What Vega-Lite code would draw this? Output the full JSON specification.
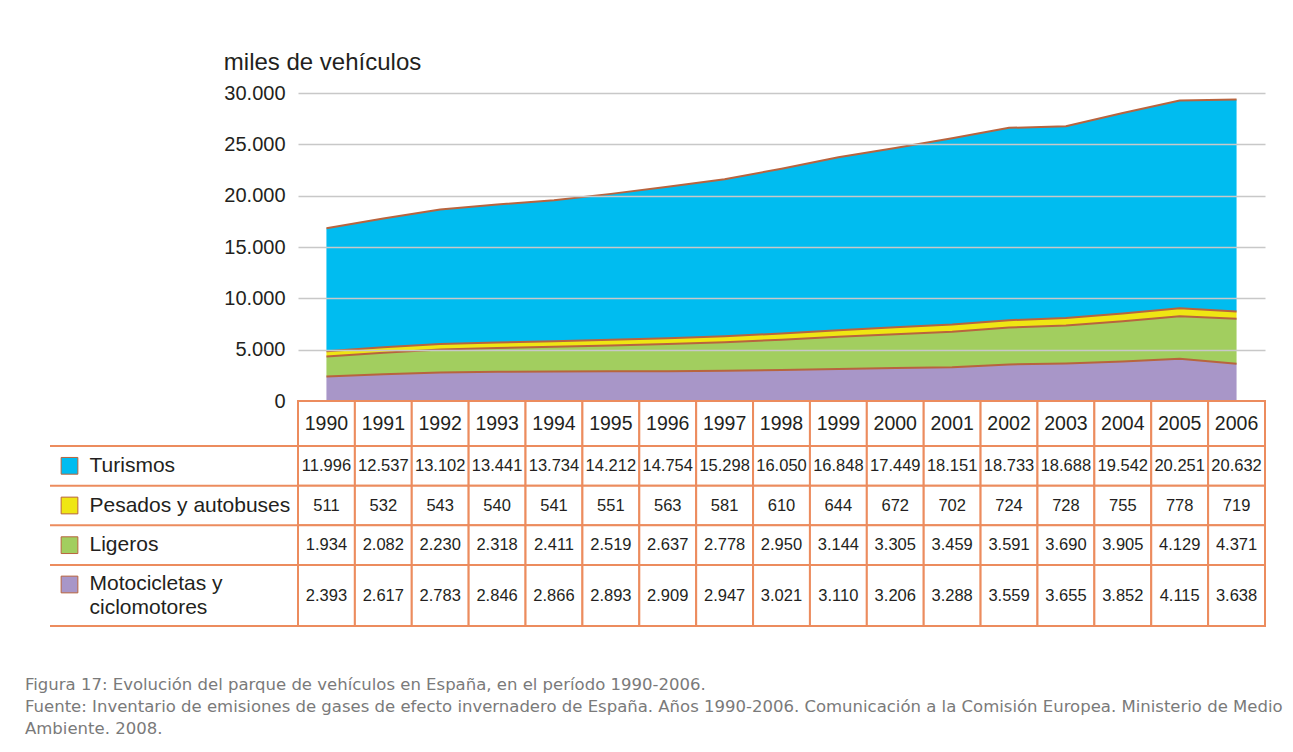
{
  "$schema": "https://vega.github.io/schema/vega-lite/v6.json",
  "padding": {"left": 25, "top": 51, "right": 0, "bottom": 0},
  "background": "white",
  "config": {
    "locale": {"number": {"decimal": ",", "thousands": ".", "grouping": [3], "currency": ["", " €"]}},
    "view": {"stroke": null},
    "font": "Liberation Sans"
  },
  "datasets": {
    "parque": [
      {"year": "1990", "Turismos": 11996, "Pesados y autobuses": 511, "Ligeros": 1934, "Motocicletas y ciclomotores": 2393},
      {"year": "1991", "Turismos": 12537, "Pesados y autobuses": 532, "Ligeros": 2082, "Motocicletas y ciclomotores": 2617},
      {"year": "1992", "Turismos": 13102, "Pesados y autobuses": 543, "Ligeros": 2230, "Motocicletas y ciclomotores": 2783},
      {"year": "1993", "Turismos": 13441, "Pesados y autobuses": 540, "Ligeros": 2318, "Motocicletas y ciclomotores": 2846},
      {"year": "1994", "Turismos": 13734, "Pesados y autobuses": 541, "Ligeros": 2411, "Motocicletas y ciclomotores": 2866},
      {"year": "1995", "Turismos": 14212, "Pesados y autobuses": 551, "Ligeros": 2519, "Motocicletas y ciclomotores": 2893},
      {"year": "1996", "Turismos": 14754, "Pesados y autobuses": 563, "Ligeros": 2637, "Motocicletas y ciclomotores": 2909},
      {"year": "1997", "Turismos": 15298, "Pesados y autobuses": 581, "Ligeros": 2778, "Motocicletas y ciclomotores": 2947},
      {"year": "1998", "Turismos": 16050, "Pesados y autobuses": 610, "Ligeros": 2950, "Motocicletas y ciclomotores": 3021},
      {"year": "1999", "Turismos": 16848, "Pesados y autobuses": 644, "Ligeros": 3144, "Motocicletas y ciclomotores": 3110},
      {"year": "2000", "Turismos": 17449, "Pesados y autobuses": 672, "Ligeros": 3305, "Motocicletas y ciclomotores": 3206},
      {"year": "2001", "Turismos": 18151, "Pesados y autobuses": 702, "Ligeros": 3459, "Motocicletas y ciclomotores": 3288},
      {"year": "2002", "Turismos": 18733, "Pesados y autobuses": 724, "Ligeros": 3591, "Motocicletas y ciclomotores": 3559},
      {"year": "2003", "Turismos": 18688, "Pesados y autobuses": 728, "Ligeros": 3690, "Motocicletas y ciclomotores": 3655},
      {"year": "2004", "Turismos": 19542, "Pesados y autobuses": 755, "Ligeros": 3905, "Motocicletas y ciclomotores": 3852},
      {"year": "2005", "Turismos": 20251, "Pesados y autobuses": 778, "Ligeros": 4129, "Motocicletas y ciclomotores": 4115},
      {"year": "2006", "Turismos": 20632, "Pesados y autobuses": 719, "Ligeros": 4371, "Motocicletas y ciclomotores": 3638}
    ]
  },
  "title": {
    "text": [
      "Figura 17: Evolución del parque de vehículos en España, en el período 1990-2006.",
      "Fuente: Inventario de emisiones de gases de efecto invernadero de España. Años 1990-2006. Comunicación a la Comisión Europea. Ministerio de Medio",
      "Ambiente. 2008."
    ],
    "orient": "bottom", "anchor": "start", "frame": "group", "dx": -25, "offset": 50,
    "fontSize": 16.5, "fontWeight": "normal", "color": "#7a7a7a", "lineHeight": 22, "font": "DejaVu Sans"
  },
  "bounds": "flush",
  "align": "each",
  "columns": 3,
  "spacing": 0,
  "resolve": {"scale": {"x": "independent", "y": "independent"}},
  "concat": [
    {"width": 1, "height": 1, "data": {"values": []}, "mark": "text"},
    {"width": 1, "height": 1, "data": {"values": []}, "mark": "text"},
    {
      "width": 967, "height": 308,
      "title": {"text": "miles de vehículos", "anchor": "start", "frame": "bounds", "fontSize": 24, "fontWeight": "normal", "color": "#231f20", "offset": 8, "font": "Liberation Sans"},
      "data": {"name": "parque"},
      "transform": [
        {"fold": ["Motocicletas y ciclomotores", "Ligeros", "Pesados y autobuses", "Turismos"], "as": ["serie", "valor"]},
        {"stack": "valor", "groupby": ["year"], "as": ["v0", "v1"]}
      ],
      "encoding": {
        "x": {"field": "year", "type": "ordinal", "scale": {"type": "point", "padding": 0.5}, "axis": null}
      },
      "layer": [
        {
          "mark": {"type": "area"},
          "encoding": {
            "y": {"field": "v1", "type": "quantitative", "scale": {"domain": [0, 30000]},
              "axis": {"values": [0, 5000, 10000, 15000, 20000, 25000, 30000], "format": ",d", "title": null, "domain": false, "ticks": false,
                "labelFontSize": 20, "labelFont": "Liberation Sans", "labelColor": "#231f20", "labelPadding": 13,
                "grid": true, "gridColor": "#c8c8c8", "gridWidth": 1.5, "zindex": 1}},
            "y2": {"field": "v0"},
            "color": {"field": "serie", "type": "nominal",
              "scale": {"domain": ["Turismos", "Pesados y autobuses", "Ligeros", "Motocicletas y ciclomotores"], "range": ["#00bcf0", "#efe613", "#a2ce5f", "#a896c8"]},
              "legend": null}
          }
        },
        {
          "mark": {"type": "line", "color": "#b8643e", "strokeWidth": 2},
          "encoding": {
            "y": {"field": "v1", "type": "quantitative"},
            "detail": {"field": "serie"}
          }
        }
      ]
    },
    {"width": 1, "height": 1, "data": {"values": []}, "mark": "text"},
    {"width": 1, "height": 1, "data": {"values": []}, "mark": "text"},
    {
      "width": 967, "height": 45,
      "data": {"name": "parque"},
      "encoding": {"x": {"field": "year", "type": "ordinal", "scale": {"type": "band", "paddingInner": 0, "paddingOuter": 0}, "axis": null}},
      "layer": [
        {"mark": {"type": "rect", "fill": "white", "stroke": "#ec8c5e", "strokeWidth": 2}},
        {"mark": {"type": "text", "fontSize": 19.5, "font": "Liberation Sans", "color": "#231f20"},
         "encoding": {"text": {"field": "year"}}}
      ]
    },
    {
      "width": 39, "height": 119,
      "data": {"name": "parque"},
      "transform": [
        {"fold": ["Turismos", "Pesados y autobuses", "Ligeros"], "as": ["serie", "valor"]},
        {"filter": "datum.year == '1990'"}
      ],
      "encoding": {"y": {"field": "serie", "type": "nominal", "scale": {"type": "band", "domain": ["Turismos", "Pesados y autobuses", "Ligeros"], "paddingInner": 0, "paddingOuter": 0}, "axis": null}},
      "layer": [
        {"mark": {"type": "rule", "color": "#ec8c5e", "strokeWidth": 2}, "encoding": {"y": {"field": "serie", "type": "nominal", "bandPosition": 0}}},
        {"mark": {"type": "point", "shape": "square", "filled": true, "size": 280, "stroke": "#b8643e", "strokeWidth": 1, "opacity": 1},
         "encoding": {"color": {"field": "serie", "type": "nominal", "scale": {"domain": ["Turismos", "Pesados y autobuses", "Ligeros", "Motocicletas y ciclomotores"], "range": ["#00bcf0", "#efe613", "#a2ce5f", "#a896c8"]}, "legend": null}}}
      ]
    },
    {
      "width": 209, "height": 119,
      "data": {"name": "parque"},
      "transform": [
        {"fold": ["Turismos", "Pesados y autobuses", "Ligeros"], "as": ["serie", "valor"]},
        {"filter": "datum.year == '1990'"}
      ],
      "layer": [
        {"mark": {"type": "rule", "color": "#ec8c5e", "strokeWidth": 2},
         "encoding": {"y": {"field": "serie", "type": "nominal", "bandPosition": 0,
           "scale": {"type": "band", "domain": ["Turismos", "Pesados y autobuses", "Ligeros"], "paddingInner": 0, "paddingOuter": 0},
           "axis": {"orient": "left", "title": null, "domain": false, "ticks": false, "grid": false, "labelAlign": "left", "labelPadding": 0,
             "labelFontSize": 21, "labelFont": "Liberation Sans", "labelColor": "#231f20", "labelLimit": 0, "labelOverlap": false, "bandPosition": 0.5}}}}
      ]
    },
    {
      "width": 967, "height": 119,
      "data": {"name": "parque"},
      "transform": [
        {"fold": ["Turismos", "Pesados y autobuses", "Ligeros"], "as": ["serie", "valor"]}
      ],
      "encoding": {
        "x": {"field": "year", "type": "ordinal", "scale": {"type": "band", "paddingInner": 0, "paddingOuter": 0}, "axis": null},
        "y": {"field": "serie", "type": "nominal", "scale": {"type": "band", "domain": ["Turismos", "Pesados y autobuses", "Ligeros"], "paddingInner": 0, "paddingOuter": 0}, "axis": null}
      },
      "layer": [
        {"mark": {"type": "rect", "fill": "white", "stroke": "#ec8c5e", "strokeWidth": 2}},
        {"mark": {"type": "text", "fontSize": 16.5, "font": "Liberation Sans", "color": "#231f20"},
         "encoding": {"text": {"field": "valor", "type": "quantitative", "format": ",d"}}}
      ]
    },
    {
      "width": 39, "height": 61,
      "data": {"name": "parque"},
      "transform": [
        {"fold": ["Motocicletas y ciclomotores"], "as": ["serie", "valor"]},
        {"filter": "datum.year == '1990'"}
      ],
      "encoding": {"y": {"field": "serie", "type": "nominal", "scale": {"type": "band", "domain": ["Motocicletas y ciclomotores"], "paddingInner": 0, "paddingOuter": 0}, "axis": null}},
      "layer": [
        {"mark": {"type": "rule", "color": "#ec8c5e", "strokeWidth": 2}, "encoding": {"y": {"field": "serie", "type": "nominal", "bandPosition": 0}}},
        {"mark": {"type": "rule", "color": "#ec8c5e", "strokeWidth": 2}, "encoding": {"y": {"field": "serie", "type": "nominal", "bandPosition": 1}}},
        {"mark": {"type": "point", "shape": "square", "filled": true, "size": 280, "stroke": "#b8643e", "strokeWidth": 1, "opacity": 1, "yOffset": -11},
         "encoding": {"color": {"field": "serie", "type": "nominal", "scale": {"domain": ["Turismos", "Pesados y autobuses", "Ligeros", "Motocicletas y ciclomotores"], "range": ["#00bcf0", "#efe613", "#a2ce5f", "#a896c8"]}, "legend": null}}}
      ]
    },
    {
      "width": 209, "height": 61,
      "data": {"name": "parque"},
      "transform": [
        {"fold": ["Motocicletas y ciclomotores"], "as": ["serie", "valor"]},
        {"filter": "datum.year == '1990'"}
      ],
      "layer": [
        {"mark": {"type": "rule", "color": "#ec8c5e", "strokeWidth": 2},
         "encoding": {"y": {"field": "serie", "type": "nominal", "bandPosition": 0,
           "scale": {"type": "band", "domain": ["Motocicletas y ciclomotores"], "paddingInner": 0, "paddingOuter": 0},
           "axis": {"orient": "left", "title": null, "domain": false, "ticks": false, "grid": false, "labelAlign": "left", "labelPadding": 0,
             "labelFontSize": 21, "labelFont": "Liberation Sans", "labelColor": "#231f20", "labelLimit": 0, "labelOverlap": false, "bandPosition": 0.5,
             "labelExpr": "['Motocicletas y', 'ciclomotores']", "labelLineHeight": 24, "labelOffset": -12}}}},
        {"mark": {"type": "rule", "color": "#ec8c5e", "strokeWidth": 2}, "encoding": {"y": {"field": "serie", "type": "nominal", "bandPosition": 1}}}
      ]
    },
    {
      "width": 967, "height": 61,
      "data": {"name": "parque"},
      "transform": [
        {"fold": ["Motocicletas y ciclomotores"], "as": ["serie", "valor"]}
      ],
      "encoding": {
        "x": {"field": "year", "type": "ordinal", "scale": {"type": "band", "paddingInner": 0, "paddingOuter": 0}, "axis": null}
      },
      "layer": [
        {"mark": {"type": "rect", "fill": "white", "stroke": "#ec8c5e", "strokeWidth": 2}},
        {"mark": {"type": "text", "fontSize": 16.5, "font": "Liberation Sans", "color": "#231f20"},
         "encoding": {"text": {"field": "valor", "type": "quantitative", "format": ",d"}}}
      ]
    }
  ]
}
